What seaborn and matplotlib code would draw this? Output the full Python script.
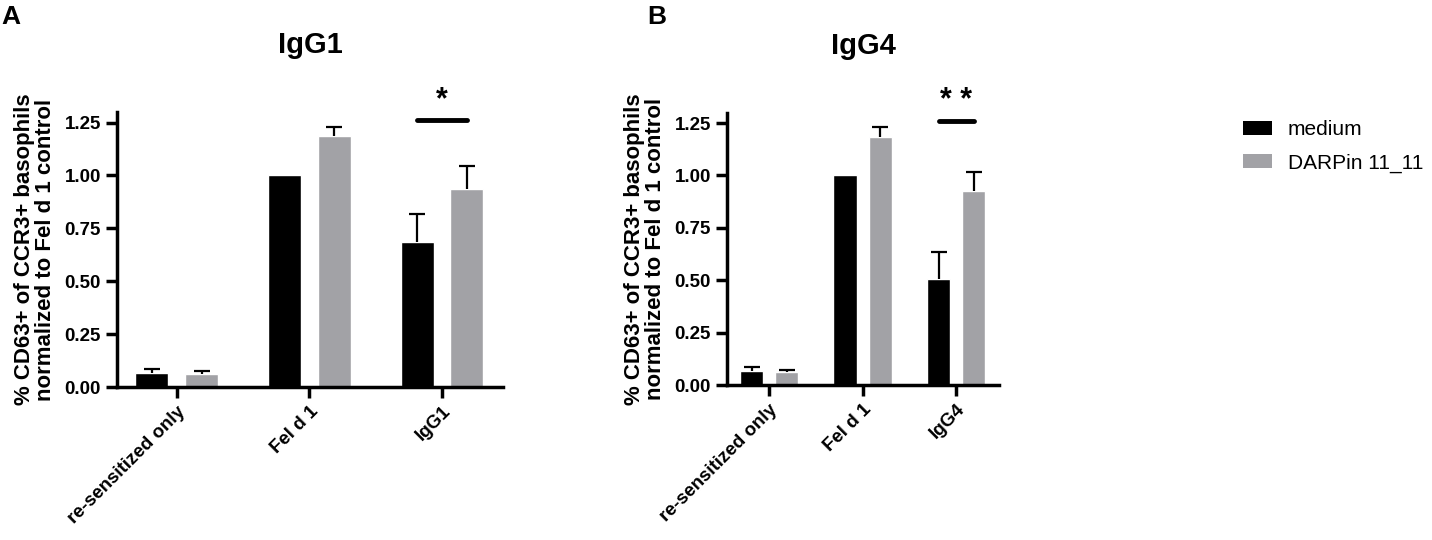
import numpy as np
import pandas as pd
import matplotlib
matplotlib.use("Agg")
import matplotlib.pyplot as plt
import seaborn as sns
from matplotlib.patches import Patch

sns.set_style("ticks")
plt.rcParams['font.family'] = ['Liberation Sans', 'DejaVu Sans']
for k in ['text.color', 'axes.labelcolor', 'xtick.color', 'ytick.color', 'axes.edgecolor']:
    plt.rcParams[k] = 'black'

# values (mean, upper SEM)
treatments = ['medium', 'DARPin 11_11']
cats_a = ['re-sensitized only', 'Fel d 1', 'IgG1']
medium_a = [0.065, 1.0, 0.685]
darpin_a = [0.062, 1.185, 0.935]
medium_err_a = [0.02, 0.0, 0.135]
darpin_err_a = [0.012, 0.045, 0.11]

cats_b = ['re-sensitized only', 'Fel d 1', 'IgG4']
medium_b = [0.065, 1.0, 0.505]
darpin_b = [0.062, 1.185, 0.925]
medium_err_b = [0.02, 0.0, 0.13]
darpin_err_b = [0.011, 0.045, 0.09]

titles = ['IgG1', 'IgG4']
letters = ['A', 'B']
stars = ['*', '* *']
palette = {'medium': '#000000', 'DARPin 11_11': '#a2a2a6'}
ylabel = '% CD63+ of CCR3+ basophils\nnormalized to Fel d 1 control'


def make_df(cats, med, dar):
    return pd.DataFrame({
        'condition': cats * 2,
        'treatment': [treatments[0]] * len(cats) + [treatments[1]] * len(cats),
        'value': med + dar,
    })


fig = plt.figure(figsize=(14.32, 5.4), dpi=100)
ax_a = fig.add_axes([0.0817, 0.2833, 0.2696, 0.5093])
ax_b = fig.add_axes([0.5077, 0.2870, 0.1900, 0.5046])

panels = [
    (ax_a, cats_a, medium_a, darpin_a, medium_err_a, darpin_err_a),
    (ax_b, cats_b, medium_b, darpin_b, medium_err_b, darpin_err_b),
]

for i, (ax, cats, med, dar, med_err, dar_err) in enumerate(panels):
    df = make_df(cats, med, dar)
    sns.barplot(data=df, x='condition', y='value', hue='treatment',
                order=cats, hue_order=treatments, palette=palette,
                width=0.75, gap=0.34, errorbar=None, legend=False,
                saturation=1, ax=ax)

    # upper-only error bars: stem from bar top plus one cap
    for cont, errs in zip(ax.containers, [med_err, dar_err]):
        for bar, e in zip(cont, errs):
            if e <= 0:
                continue
            xc = bar.get_x() + bar.get_width() / 2
            top = bar.get_height()
            ax.vlines(xc, top, top + e, color='black', lw=1.6, zorder=3)
            ax.plot(xc, top + e, marker='_', markersize=11, mew=1.6,
                    color='black', zorder=3)

    # significance line between the two bars of the last group
    b0 = ax.containers[0][2]
    b1 = ax.containers[1][2]
    x0 = b0.get_x() + b0.get_width() / 2
    x1 = b1.get_x() + b1.get_width() / 2
    ax.plot([x0, x1], [1.26, 1.26], color='black', lw=3.5,
            solid_capstyle='round', clip_on=False)
    ax.text((x0 + x1) / 2, 1.285, stars[i], ha='center', va='bottom',
            fontsize=22, fontweight='bold', clip_on=False)

    ax.set_ylim(0, 1.30)
    ax.set_xlim(-0.45, 2.46)
    ax.set_yticks([0, 0.25, 0.5, 0.75, 1.0, 1.25])
    ax.set_yticklabels(['0.00', '0.25', '0.50', '0.75', '1.00', '1.25'])
    ax.set_xlabel('')
    ax.set_ylabel(ylabel, fontsize=16, fontweight='bold', labelpad=6,
                  linespacing=1.05)
    sns.despine(ax=ax)
    for s in ['left', 'bottom']:
        ax.spines[s].set_linewidth(2.5)
    ax.tick_params(axis='both', width=2.5, length=8, labelsize=13.5)
    for lab in ax.get_yticklabels():
        lab.set_fontweight('bold')
    for lab in ax.get_xticklabels():
        lab.set_fontweight('bold')
        lab.set_rotation(45)
        lab.set_ha('right')
        lab.set_rotation_mode('anchor')

    ax.text(0.5, 1.245, titles[i], transform=ax.transAxes, ha='center',
            va='center', fontsize=21, fontweight='bold')

fig.text(0.001, 0.968, letters[0], ha='left', va='center', fontsize=19,
         fontweight='bold')
fig.text(0.452, 0.968, letters[1], ha='left', va='center', fontsize=19,
         fontweight='bold')

handles = [Patch(facecolor=palette[t], edgecolor='none') for t in treatments]
fig.legend(handles, treatments, loc='upper left',
           bbox_to_anchor=(0.868, 0.778), frameon=False, fontsize=15,
           handlelength=1.4, handleheight=0.65, handletextpad=0.75,
           labelspacing=0.7, borderpad=0, borderaxespad=0)

fig.savefig('out.png', dpi=100)
